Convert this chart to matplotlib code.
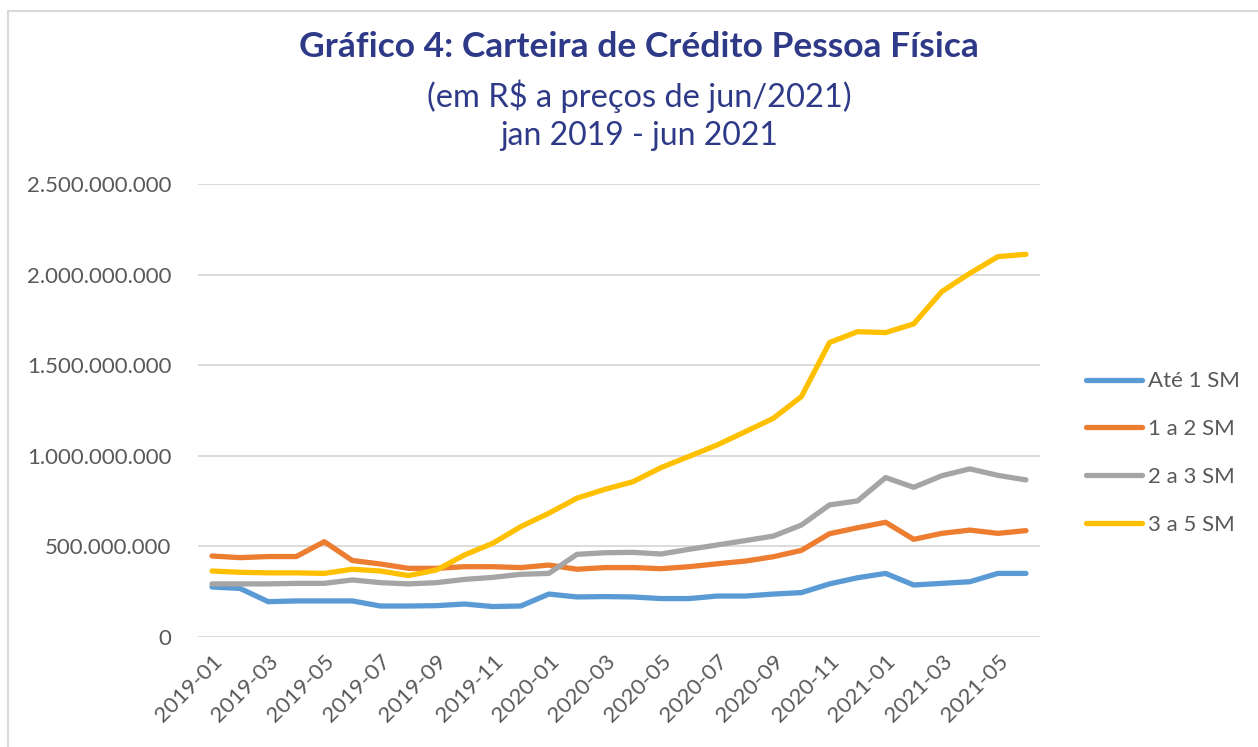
import matplotlib
matplotlib.use("Agg")
import matplotlib.pyplot as plt
from matplotlib.patches import Rectangle
from matplotlib.ticker import FuncFormatter, MultipleLocator

months = ["2019-01","2019-02","2019-03","2019-04","2019-05","2019-06","2019-07","2019-08","2019-09","2019-10","2019-11","2019-12",
          "2020-01","2020-02","2020-03","2020-04","2020-05","2020-06","2020-07","2020-08","2020-09","2020-10","2020-11","2020-12",
          "2021-01","2021-02","2021-03","2021-04","2021-05","2021-06"]

ate_1sm = [276e6, 268e6, 195e6, 199e6, 199e6, 199e6, 171e6, 171e6, 173e6, 182e6, 168e6, 171e6,
           237e6, 221e6, 223e6, 221e6, 212e6, 212e6, 226e6, 226e6, 237e6, 245e6, 293e6, 327e6,
           351e6, 287e6, 296e6, 305e6, 351e6, 351e6]
de1a2_sm = [447e6, 438e6, 444e6, 444e6, 526e6, 422e6, 403e6, 379e6, 379e6, 388e6, 388e6, 383e6,
            397e6, 374e6, 383e6, 383e6, 377e6, 388e6, 404e6, 419e6, 443e6, 478e6, 570e6, 603e6,
            633e6, 539e6, 572e6, 590e6, 572e6, 587e6]
de2a3_sm = [293e6, 293e6, 293e6, 296e6, 296e6, 315e6, 300e6, 293e6, 300e6, 318e6, 329e6, 346e6,
            351e6, 456e6, 465e6, 467e6, 458e6, 484e6, 508e6, 532e6, 557e6, 618e6, 729e6, 751e6,
            880e6, 826e6, 890e6, 928e6, 892e6, 867e6]
de3a5_sm = [364e6, 357e6, 354e6, 354e6, 351e6, 374e6, 364e6, 339e6, 370e6, 453e6, 517e6, 609e6,
            683e6, 766e6, 815e6, 857e6, 935e6, 997e6, 1060e6, 1133e6, 1207e6, 1327e6, 1625e6, 1685e6,
            1680e6, 1728e6, 1906e6, 2007e6, 2099e6, 2112e6]

series = [("Até 1 SM", ate_1sm, "#5B9BD5"),
          ("1 a 2 SM", de1a2_sm, "#ED7D31"),
          ("2 a 3 SM", de2a3_sm, "#A5A5A5"),
          ("3 a 5 SM", de3a5_sm, "#FFC000")]

FONT = ["Lato", "DejaVu Sans"]
plt.rcParams['font.family'] = FONT
W, H = 1258, 747
fig = plt.figure(figsize=(W/100, H/100), dpi=100)
fig.patch.set_facecolor("white")

# chart border
fig.add_artist(Rectangle((8/W, -0.1), 1.2, (H-11)/H + 0.1, transform=fig.transFigure,
                         fill=False, edgecolor="#D9D9D9", linewidth=1.5))

ax = fig.add_axes([198/W, 1-637/H, (1040-198)/W, (637-184)/H])
x = list(range(len(months)))
for label, vals, color in series:
    ax.plot(x, vals, color=color, linewidth=3.8, label=label, solid_capstyle="round",
            solid_joinstyle="round")

ax.set_xlim(-0.5, len(months)-0.5)
ax.set_ylim(0, 2.5e9)
ax.yaxis.set_major_locator(MultipleLocator(5e8))
ax.yaxis.set_major_formatter(FuncFormatter(lambda v, p: f"{int(v):,}".replace(",", ".")))
ax.grid(axis="y", color="#D9D9D9", linewidth=1.3)
ax.set_axisbelow(True)
for s in ax.spines.values():
    s.set_visible(False)
ax.tick_params(axis="both", length=0, colors="#595959", labelsize=16)
ax.tick_params(axis="y", pad=19)
ax.set_xticks(x[::2])
ax.set_xticklabels(months[::2], rotation=45, ha="right", rotation_mode="anchor")
ax.tick_params(axis="x", pad=10)

leg = ax.legend(loc="center left", bbox_to_anchor=(1.0546, 0.406), frameon=False,
                fontsize=16, labelcolor="#595959", handlelength=2.5, handletextpad=0.3,
                labelspacing=1.25, borderaxespad=0, borderpad=0)

title_color = "#2E3A87"
fig.text(639/W, 1-47/H, "Gráfico 4: Carteira de Crédito Pessoa Física", ha="center", va="center",
         fontsize=25.5, fontweight="bold", color=title_color)
fig.text(639/W, 1-96/H, "(em R$ a preços de jun/2021)", ha="center", va="center",
         fontsize=23.5, color=title_color)
fig.text(639/W, 1-136/H, "jan 2019 - jun 2021", ha="center", va="center",
         fontsize=23, color=title_color)

fig.savefig("out.png", dpi=100, facecolor="white")
